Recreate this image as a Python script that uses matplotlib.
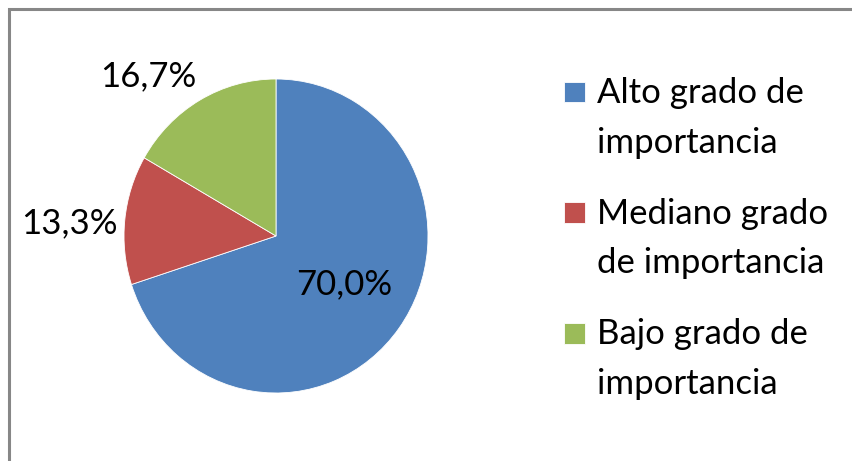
import matplotlib.pyplot as plt
from matplotlib.patches import Rectangle
from matplotlib.legend_handler import HandlerPatch

plt.rcParams['font.family'] = ['Lato', 'DejaVu Sans']

# data
categorias = ["Alto grado de\nimportancia", "Mediano grado\nde importancia", "Bajo grado de\nimportancia"]
porcentajes = [70.0, 13.3, 16.7]
colores = ["#4F81BD", "#C0504D", "#9BBB59"]
etiquetas = ["70,0%", "13,3%", "16,7%"]
pos_etiquetas = [(0.45, -0.31), (-1.36, 0.08), (-0.84, 1.02)]

W, H = 852, 461
fig = plt.figure(figsize=(W / 100, H / 100), dpi=100)

# frame of the chart area (only left and top edges visible)
fig.patches.append(Rectangle((8.5 / W, -0.1), 1.2, 1 - 8.5 / H + 0.1, transform=fig.transFigure,
                             fill=False, edgecolor="#878787", linewidth=2.2))

ax = fig.add_axes([124 / W, (H - 393) / H, 304 / W, 314 / H])
wedges, _ = ax.pie(porcentajes, colors=colores, startangle=90, counterclock=False,
                   wedgeprops=dict(linewidth=0.6, edgecolor="white"))
ax.set_aspect("auto")
ax.set_xlim(-1, 1)
ax.set_ylim(-1, 1)

for txt, (x, y) in zip(etiquetas, pos_etiquetas):
    ax.text(x, y, txt, ha="center", va="center", fontsize=25, color="black")


def cuadro(legend, orig_handle, xdescent, ydescent, width, height, fontsize):
    # square next to the first line of each entry
    sq = 0.6 * fontsize
    return Rectangle((width - sq, 0.82 * fontsize), sq, sq)


leg = fig.legend(wedges, categorias, loc="upper left", bbox_to_anchor=(550 / W, 1 - 77 / H),
                 frameon=False, fontsize=25, handlelength=1.0, handletextpad=0.36,
                 labelspacing=1.12, borderpad=0, borderaxespad=0,
                 handler_map={w: HandlerPatch(patch_func=cuadro) for w in wedges})
for t in leg.get_texts():
    t.set_linespacing(1.68)

fig.savefig("out.png", dpi=100)
